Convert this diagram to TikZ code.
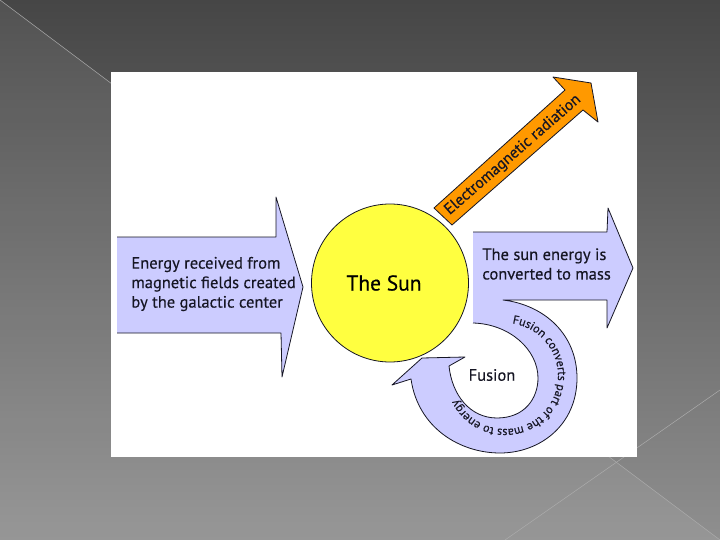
\documentclass[tikz,border=0pt]{standalone}
\usepackage{fontspec}
\setmainfont{PT Sans}[UprightFeatures={FakeBold=0.35}]
\usetikzlibrary{shapes.geometric, decorations.text}

\definecolor{bandblue}{RGB}{204,204,255}
\definecolor{sunyellow}{RGB}{255,255,64}
\definecolor{rayorange}{RGB}{255,153,0}
\definecolor{inkdark}{RGB}{22,22,36}
\definecolor{bgtop}{RGB}{70,70,70}
\definecolor{bgbottom}{RGB}{143,143,143}
\definecolor{bgline}{RGB}{172,172,172}

\begin{document}
\begin{tikzpicture}[x=1pt, y=-1pt, line width=0.8pt,
    band/.style={fill=bandblue, draw=inkdark, line join=round},
    ray/.style={fill=rayorange, draw=inkdark, line join=round},
    sun/.style={ellipse, fill=sunyellow, draw=inkdark, minimum width=157pt,
                minimum height=158pt, inner sep=0pt, font=\fontsize{21.5}{24}\selectfont},
    lbl/.style={text=inkdark, font=\fontsize{16.5}{19.5}\selectfont, inner sep=0pt}]
    \useasboundingbox (0,0) rectangle (720,540);
    % slide background
    \shade[top color=bgtop, bottom color=bgbottom] (0,0) rectangle (720,540);
    \fill[white, opacity=0.07] (0,0) -- (720,540) -- (0,540) -- cycle;
    \draw[bgline, line width=0.5pt] (0,0) -- (720,540);
    \draw[bgline, line width=0.5pt] (720,390) -- (505,540);
    \fill[white] (111,72) rectangle (637,457);

    % incoming energy
    \draw[band] (117,237) -- (276,237) -- (276,197) -- (303,287) -- (282,377)
        -- (281,333) -- (117,333);
    \node[lbl, align=left, anchor=west] (intext) at (131,284)
        {Energy received from\\magnetic fields created\\by the galactic center};

    % outgoing mass + fusion loop
    \draw[band] (473,232) -- (607,232) -- (608,208) -- (633,268) -- (607,328)
        -- (607,300) -- (503,300)
        .. controls (545,305) and (577,335) .. (577,378)
        .. controls (577,425) and (540,453) .. (500,453)
        .. controls (460,453) and (418,428) .. (411,379)
        -- (392,385) -- (422,358) -- (465,357) -- (449,366)
        .. controls (452,395) and (470,418) .. (497,418)
        .. controls (525,418) and (538,398) .. (538,378)
        .. controls (538,350) and (510,324) .. (473,323);
    \node[lbl, align=left, anchor=west] (outtext) at (482,264)
        {The sun energy is\\converted to mass};
    \node[lbl] (fusion) at (492,375) {Fusion};
    \path[decorate, decoration={text along path, text align=center,
        text={|\fontsize{12}{14}\selectfont\color{inkdark}|Fusion converts part of the mass to energy}}]
        (514.2,323.8) arc[start angle=-80, end angle=152, radius=53];

    % radiation
    \draw[ray] (452,225) -- (434,208) -- (565,90) -- (553,77) -- (591,83)
        -- (598,122) -- (583,110) -- cycle;
    \node[lbl, rotate=41, font=\fontsize{15.8}{18}\selectfont] (emtext) at (513,155)
        {Electromagnetic radiation};

    \node[sun] (sun) at (390,283) {The Sun\hspace*{12pt}};
\end{tikzpicture}
\end{document}
